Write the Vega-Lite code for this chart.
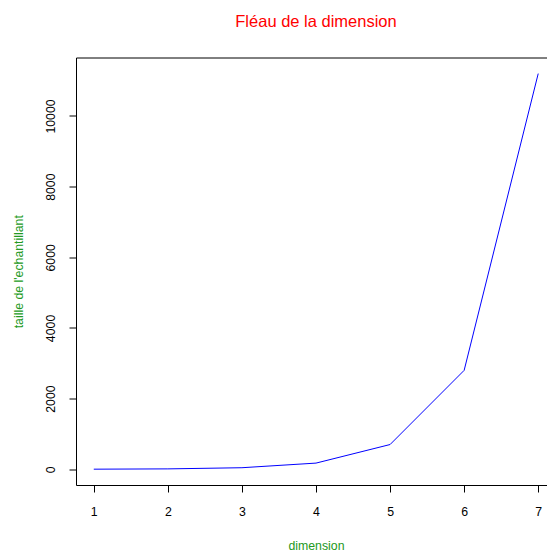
{
  "$schema": "https://vega.github.io/schema/vega-lite/v6.json",
  "autosize": "none",
  "padding": {"left": 76, "top": 57.5, "right": -9, "bottom": 66},
  "width": 480,
  "height": 427.5,
  "background": "white",
  "config": {
    "view": {"stroke": "black", "strokeWidth": 1},
    "font": "Liberation Sans"
  },
  "title": {
    "text": "Fléau de la dimension",
    "color": "#FF0000",
    "fontSize": 16.5,
    "fontWeight": "normal",
    "font": "Liberation Sans",
    "anchor": "middle",
    "baseline": "alphabetic",
    "offset": 14.5
  },
  "data": {
    "values": [
      {"dimension": 1, "taille": 2.7},
      {"dimension": 2, "taille": 11},
      {"dimension": 3, "taille": 44},
      {"dimension": 4, "taille": 175},
      {"dimension": 5, "taille": 700},
      {"dimension": 6, "taille": 2800},
      {"dimension": 7, "taille": 11200}
    ]
  },
  "mark": {"type": "line", "color": "#0000FF", "strokeWidth": 1, "clip": true},
  "encoding": {
    "x": {
      "field": "dimension",
      "type": "quantitative",
      "scale": {"domain": [0.76, 7.24], "nice": false, "zero": false},
      "axis": {
        "title": "dimension",
        "titleColor": "#229922",
        "titleFontSize": 12.3,
        "titleFontWeight": "normal",
        "titleFont": "Liberation Sans",
        "titleBaseline": "alphabetic",
        "titleY": 64,
        "values": [1, 2, 3, 4, 5, 6, 7],
        "domain": false,
        "grid": false,
        "ticks": true,
        "tickSize": 7,
        "tickColor": "black",
        "labelFontSize": 12.3,
        "labelFont": "Liberation Sans",
        "labelColor": "black",
        "labelPadding": 13,
        "labelFlush": false,
        "labelOverlap": false
      }
    },
    "y": {
      "field": "taille",
      "type": "quantitative",
      "scale": {"domain": [-445, 11655], "nice": false, "zero": false},
      "axis": {
        "title": "taille de l'echantillant",
        "titleColor": "#229922",
        "titleFontSize": 12.3,
        "titleFontWeight": "normal",
        "titleFont": "Liberation Sans",
        "titleAngle": -90,
        "titleAlign": "center",
        "titleBaseline": "alphabetic",
        "titleX": -53.7,
        "titleY": 213.75,
        "values": [0, 2000, 4000, 6000, 8000, 10000],
        "format": "d",
        "domain": false,
        "grid": false,
        "tickSize": 7,
        "tickColor": "black",
        "labelFontSize": 12.3,
        "labelFont": "Liberation Sans",
        "labelColor": "black",
        "labelAngle": -90,
        "labelAlign": "center",
        "labelBaseline": "alphabetic",
        "labelPadding": 15,
        "labelFlush": false,
        "labelOverlap": false
      }
    }
  }
}
